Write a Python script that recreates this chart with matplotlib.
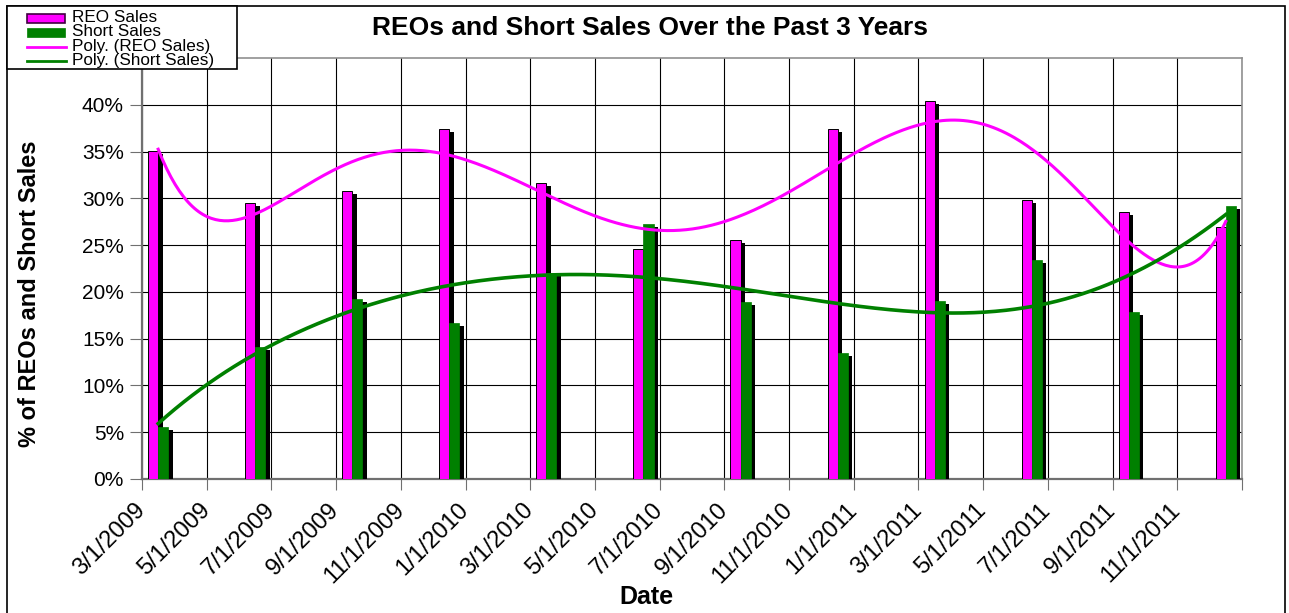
import matplotlib
matplotlib.use("Agg")
import matplotlib.pyplot as plt
from matplotlib.patches import Rectangle
from matplotlib.lines import Line2D
import numpy as np

plt.rcParams['font.family'] = ['Liberation Sans', 'DejaVu Sans']

# data (percent)
dates = ["3/1/2009", "6/1/2009", "9/1/2009", "12/1/2009",
         "3/1/2010", "6/1/2010", "9/1/2010", "12/1/2010",
         "3/1/2011", "6/1/2011", "9/1/2011", "12/1/2011"]
reo_sales = [35.1, 29.5, 30.8, 37.4, 31.6, 24.6, 25.5, 37.4, 40.4, 29.8, 28.5, 26.9]
short_sales = [5.6, 14.1, 19.2, 16.7, 22.0, 27.3, 18.9, 13.5, 19.0, 23.4, 17.8, 29.2]

tick_labels = ["3/1/2009", "5/1/2009", "7/1/2009", "9/1/2009", "11/1/2009",
               "1/1/2010", "3/1/2010", "5/1/2010", "7/1/2010", "9/1/2010",
               "11/1/2010", "1/1/2011", "3/1/2011", "5/1/2011", "7/1/2011",
               "9/1/2011", "11/1/2011", ""]
y_ticks = [0, 5, 10, 15, 20, 25, 30, 35, 40]
legend_labels = ["REO Sales", "Short Sales", "Poly. (REO Sales)", "Poly. (Short Sales)"]


def month_pos(s):
    # months since 3/2009, centred in the month slot like excel's date axis
    m, d, y = [int(v) for v in s.split("/")]
    return (y - 2009) * 12 + (m - 3) + 0.5


def day_num(s):
    m, d, y = [int(v) for v in s.split("/")]
    return np.datetime64("%04d-%02d-%02d" % (y, m, d)).astype(int)


x = np.array([month_pos(d) for d in dates])
xd = np.array([day_num(d) for d in dates], dtype=float)
reo = np.array(reo_sales)
short = np.array(short_sales)

MAGENTA = "#ff00ff"
GREEN = "#008000"
W, H = 1289.0, 613.0

fig = plt.figure(figsize=(12.89, 6.13), dpi=100)
ax = fig.add_axes([142 / W, 134 / H, 1100 / W, 421 / H])

w = 0.31
sdx = 0.14   # shadow offset (months)
sdy = 0.32   # shadow drop (percent)

ax.bar(x - w / 2 + sdx, reo - sdy, w, color="black", zorder=2)
ax.bar(x - w / 2, reo, w, color=MAGENTA, edgecolor="black", linewidth=0.7, zorder=3)
ax.bar(x + w / 2 + sdx, short - sdy, w, color="black", zorder=4)
ax.bar(x + w / 2, short, w, color=GREEN, edgecolor=GREEN, linewidth=0.5, zorder=5)

# 6th order polynomial trendlines (fitted on the dates, like excel's "Poly." trendline)
xc = xd.mean()
xs_d = np.linspace(xd[0], xd[-1], 500)
xs = np.interp(xs_d, xd, x)
p_reo = np.polyfit((xd - xc) / 100.0, reo, 6)
p_short = np.polyfit((xd - xc) / 100.0, short, 6)
ax.plot(xs, np.polyval(p_reo, (xs_d - xc) / 100.0), color=MAGENTA, lw=2.2, zorder=6)
ax.plot(xs, np.polyval(p_short, (xs_d - xc) / 100.0), color=GREEN, lw=2.6, zorder=6)

ax.set_xlim(0, 34)
ax.set_ylim(0, 45)
ax.set_xticks(np.arange(0, 35, 2))
ax.set_xticklabels(tick_labels, rotation=45, ha="right", va="center",
                   rotation_mode="anchor", fontsize=17)
ax.set_yticks(y_ticks)
ax.set_yticklabels(["%d%%" % v for v in y_ticks], fontsize=15)
ax.tick_params(axis="x", length=8, color="#707070", pad=12)
ax.tick_params(axis="y", length=9, color="#707070", pad=4)

ax.grid(True, color="black", lw=0.8, zorder=1)
ax.set_axisbelow(True)
for side in ["left", "bottom"]:
    ax.spines[side].set_color("#707070")
    ax.spines[side].set_linewidth(1.6)
for side in ["top", "right"]:
    ax.spines[side].set_color("#909090")
    ax.spines[side].set_linewidth(1.2)

fig.text(650 / W, 1 - 28 / H, "REOs and Short Sales Over the Past 3 Years",
         ha="center", va="center", fontsize=19, fontweight="bold")
fig.text(30 / W, 1 - 294 / H, "% of REOs and Short Sales", rotation=90,
         ha="center", va="center", fontsize=17, fontweight="bold")
fig.text(646 / W, 1 - 597 / H, "Date", ha="center", va="center",
         fontsize=18, fontweight="bold")

# chart border
fig.patches.append(Rectangle((7 / W, -0.01), 1278 / W, 1.0 - 6 / H + 0.01,
                             transform=fig.transFigure, fill=False,
                             edgecolor="black", lw=1.2))

# legend box in the top left corner, drawn by hand to match excel's tight layout
tf = fig.transFigure
fig.patches.append(Rectangle((7 / W, 1 - 69 / H), 230 / W, 63 / H, transform=tf,
                             facecolor="white", edgecolor="black", lw=1.2, zorder=5))
fig.patches.append(Rectangle((27 / W, 1 - 23 / H), 38 / W, 9 / H, transform=tf,
                             facecolor=MAGENTA, edgecolor="#400040", lw=1.2, zorder=6))
fig.patches.append(Rectangle((27 / W, 1 - 37 / H), 38 / W, 9 / H, transform=tf,
                             facecolor=GREEN, edgecolor=GREEN, lw=0.5, zorder=6))
fig.lines.append(Line2D([27 / W, 66 / W], [1 - 47 / H, 1 - 47 / H], transform=tf,
                        color=MAGENTA, lw=2, zorder=6))
fig.lines.append(Line2D([27 / W, 66 / W], [1 - 61 / H, 1 - 61 / H], transform=tf,
                        color=GREEN, lw=2, zorder=6))
for lab, yc in zip(legend_labels, [18, 32, 46.5, 61]):
    fig.text(72 / W, 1 - yc / H, lab, ha="left", va="center", fontsize=12.3, zorder=7)

fig.savefig("out.png", dpi=100)
